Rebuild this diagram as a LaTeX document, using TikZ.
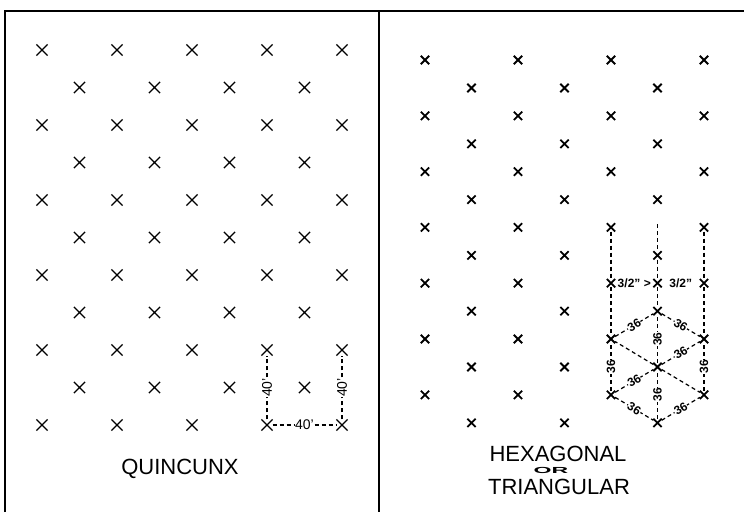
\documentclass[tikz,border=0pt]{standalone}
\usepackage{fontspec}
\setmainfont{Liberation Sans}
\usetikzlibrary{shapes.misc}
\begin{document}
\begin{tikzpicture}[x=1pt,y=-1pt,
  lx/.style={cross out, draw, minimum size=10pt, inner sep=0pt, line width=1.2pt},
  rx/.style={cross out, draw, minimum size=6.5pt, inner sep=0pt, line width=1.8pt},
  dim/.style={dash pattern=on 4pt off 3pt, line width=1.2pt},
  lbl/.style={fill=white, inner sep=0.6pt, font=\fontsize{14}{14}\selectfont},
  rlbl/.style={fill=white, inner sep=0.4pt, font=\fontsize{12}{12}\selectfont\bfseries},
  title/.style={inner sep=0pt, font=\fontsize{22}{24}\selectfont},
  frame/.style={line width=1.3pt}]
\useasboundingbox (0,0) rectangle (744,512);
% frame
\draw[frame] (5,512) -- (5,11) -- (744,11);
\draw[frame] (379,11) -- (379,512);
% left panel: quincunx
\foreach \r in {0,...,5}
  \foreach \c in {0,...,4}
    \node[lx] (L\r\c) at ({42+75*\c},{50+75*\r}) {};
\foreach \r in {0,...,4}
  \foreach \c in {0,...,3}
    \node[lx] (M\r\c) at ({79.5+75*\c},{87.5+75*\r}) {};
\draw[dim] (L53) -- node[lbl,sloped] {40'} (L43);
\draw[dim] (L54) -- node[lbl,sloped] {40'} (L44);
\draw[dim] (L53) -- node[lbl] {40'} (L54);
\node[title] (q) at (180,469) {QUINCUNX};
% right panel: hexagonal
\foreach \c in {0,...,6}
  \foreach \k in {0,...,6} {
    \pgfmathsetmacro\xx{425+46.5*\c}
    \pgfmathsetmacro\yy{60+28*mod(\c,2)+55.8*\k}
    \node[rx] (R\c-\k) at (\xx,\yy) {};
  }
\node[rx] (Fx) at (657.5,283.2) {};
\coordinate (Ftop) at (657.5,224);
% verticals
\draw[dim] (R4-3) -- (R4-4);
\draw[dim] (R4-4) -- (R4-5);
\draw[dim] (R4-6) -- node[rlbl,sloped] {36} (R4-5);
\draw[dim] (R6-3) -- (R6-4);
\draw[dim] (R6-4) -- (R6-5);
\draw[dim] (R6-6) -- node[rlbl,sloped] {36} (R6-5);
\draw[dim] (Ftop) -- (R5-3);
\draw[dim] (R5-3) -- (Fx);
\draw[dim] (Fx) -- (R5-4);
\draw[dim] (R5-5) -- node[rlbl,sloped] {36} (R5-4);
\draw[dim] (R5-6) -- node[rlbl,sloped] {36} (R5-5);
% hexagon edges
\draw[dim] (R4-5) -- node[rlbl,sloped] {36} (R5-4);
\draw[dim] (R5-4) -- node[rlbl,sloped] {36} (R6-5);
\draw[dim] (R4-6) -- node[rlbl,sloped] {36} (R5-6);
\draw[dim] (R5-6) -- node[rlbl,sloped] {36} (R6-6);
% spokes
\draw[dim] (R5-5) -- (R4-5);
\draw[dim] (R5-5) -- (R6-6);
\draw[dim] (R4-6) -- node[rlbl,sloped] {36} (R5-5);
\draw[dim] (R5-5) -- node[rlbl,sloped] {36} (R6-5);
% spacing labels
\path (R4-4) -- node[rlbl] {3/2" >} (Fx);
\path (Fx) -- node[rlbl] {3/2"} (R6-4);
% titles
\node[title] (h) at (558,454) {HEXAGONAL};
\node[inner sep=0pt, font=\fontsize{22}{22}\selectfont\bfseries] (or) at (551,470) {\scalebox{1.05}[0.4]{OR}};
\node[title] (t) at (559,487) {TRIANGULAR};
\end{tikzpicture}
\end{document}
